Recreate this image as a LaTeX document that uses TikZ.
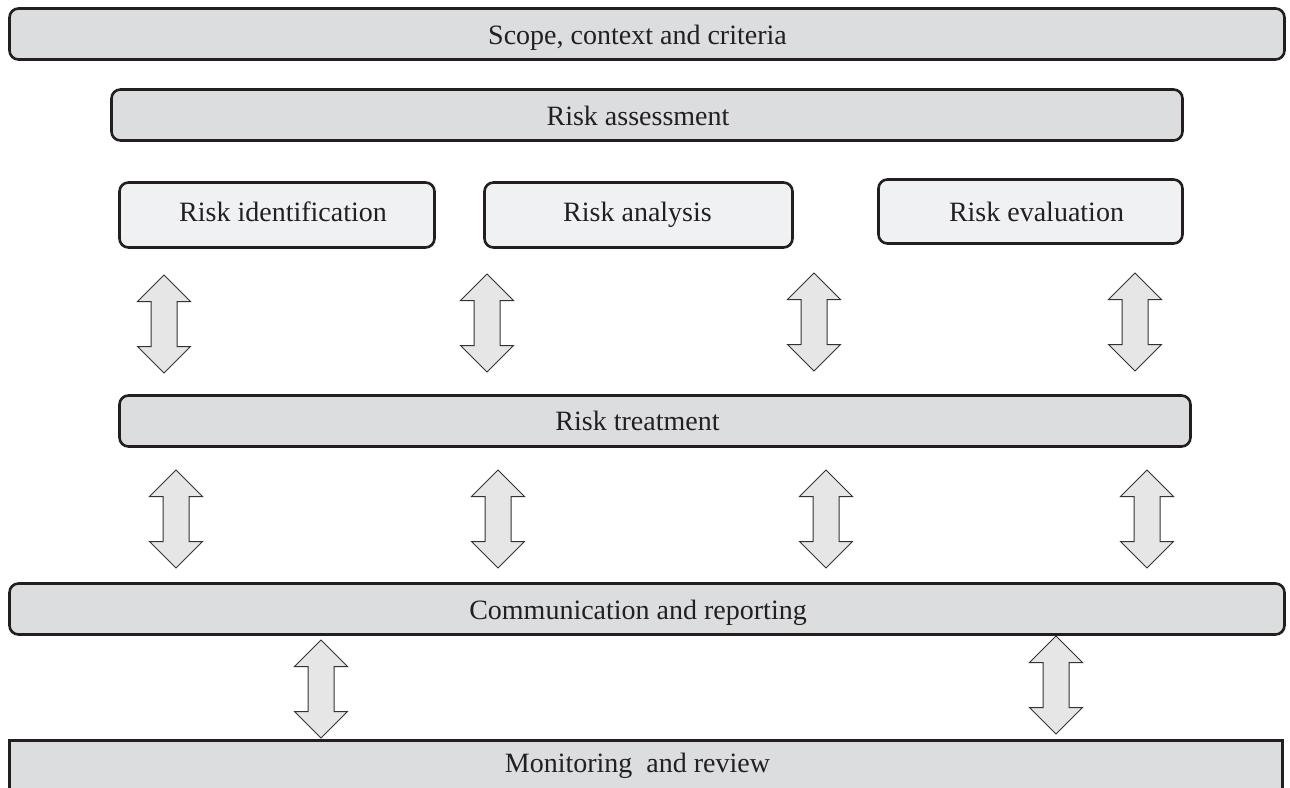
\documentclass[tikz,border=0pt]{standalone}
\usepackage{fontspec}
\setmainfont{Liberation Serif}
\usetikzlibrary{shapes.arrows}
\definecolor{boxfill}{HTML}{DCDDDF}
\definecolor{lightfill}{HTML}{F0F1F3}
\definecolor{edge}{HTML}{231F20}
\definecolor{arrfill}{HTML}{E6E6E6}
\definecolor{arredge}{HTML}{333333}
\begin{document}
\begin{tikzpicture}[x=1pt,y=-1pt,
  box/.style={draw=edge, line width=2.6pt, fill=boxfill, rounded corners=9pt, inner sep=0pt},
  subbox/.style={box, fill=lightfill},
  txt/.style={inner sep=0pt, anchor=base, font=\fontsize{28}{33}\selectfont, text=edge},
  dbl/.style={draw=arredge, line width=1pt, fill=arrfill, double arrow,
    double arrow head extend=13.5pt, double arrow head indent=0pt,
    inner xsep=0pt, inner ysep=12.5pt,
    minimum width=52pt, minimum height=98pt, rotate=90}]
\useasboundingbox (0,0) rectangle (1290,787);
% boxes
\node[box, minimum width=1275pt, minimum height=51pt] (scope) at (647,34) {};
\node[box, minimum width=1071pt, minimum height=51pt] (assess) at (647,115) {};
\node[subbox, minimum width=315pt, minimum height=65pt] (ident) at (277,215) {};
\node[subbox, minimum width=308pt, minimum height=65pt] (anal) at (638.5,215) {};
\node[subbox, minimum width=304pt, minimum height=64pt] (eval) at (1030.5,211.5) {};
\node[box, minimum width=1071pt, minimum height=51pt] (treat) at (655,421) {};
\node[box, minimum width=1275pt, minimum height=51pt] (comm) at (647,609) {};
\node[box, rounded corners=0pt, minimum width=1273pt, minimum height=53pt] (mon) at (646,767) {};
% texts
\node[txt] (scopet) at (637.5,44) {Scope, context and criteria};
\node[txt] (assesst) at (638,125) {Risk assessment};
\node[txt] (identt) at (283,221) {Risk identification};
\node[txt] (analt) at (637.5,221) {Risk analysis};
\node[txt] (evalt) at (1036.5,221) {Risk evaluation};
\node[txt] (treatt) at (637.5,430) {Risk treatment};
\node[txt] (commt) at (638,619) {Communication and reporting};
\node[txt] (mont) at (637.5,772) {Monitoring\ \ and review};
% double arrows
\node[dbl] (a1) at (164,324) {};
\node[dbl] (a2) at (487,323) {};
\node[dbl] (a3) at (814,322) {};
\node[dbl] (a4) at (1135,322) {};
\node[dbl] (b1) at (176,519) {};
\node[dbl] (b2) at (498,519) {};
\node[dbl] (b3) at (826,519) {};
\node[dbl] (b4) at (1147,519) {};
\node[dbl] (c1) at (321,689) {};
\node[dbl] (c2) at (1056,685) {};
\end{tikzpicture}
\end{document}
